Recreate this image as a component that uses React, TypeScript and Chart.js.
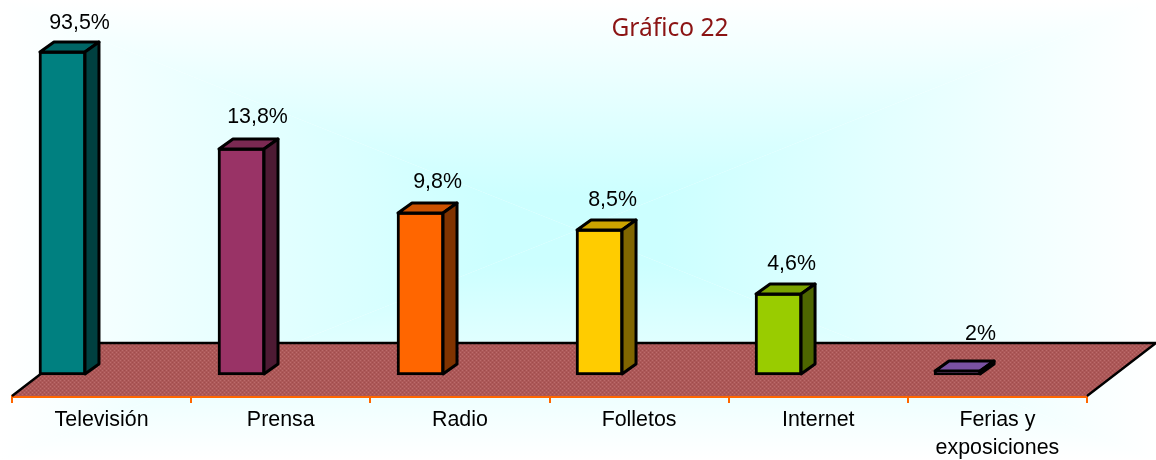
import React, { useEffect, useRef } from "react";
import { Chart, registerables } from "chart.js";

Chart.register(...registerables);

const categories: (string | string[])[] = ["Televisión", "Prensa", "Radio", "Folletos", "Internet", ["Ferias y", "exposiciones"]];
const valueLabels = ["93,5%", "13,8%", "9,8%", "8,5%", "4,6%", "2%"];
// Column heights as drawn in the picture (the source chart's axis is not proportional to its labels).
const drawnHeights = [324, 227, 163, 146, 82, 5];
const barColors = ["#008080", "#993366", "#FF6600", "#FFCC00", "#99CC00", "#9966CC"];
const chartTitle = "Gráfico 22";

const LABEL_FONT = "21.4px 'Liberation Sans', Arial, sans-serif";
const LABEL_LIFT = [28, 31, 30, 29, 29, 36];
const LABEL_SHIFT = [17, 16, 17, 13, 13, 23];
const DEPTH_X = 14;
const DEPTH_Y = 10;

const shade = (hex: string, k: number) => {
  const n = parseInt(hex.slice(1), 16);
  const c = [(n >> 16) & 255, (n >> 8) & 255, n & 255].map((v) => Math.round(v * k));
  return `rgb(${c[0]},${c[1]},${c[2]})`;
};

const backgroundPlugin = {
  id: "pathGradient",
  beforeDraw(chart: any) {
    const { ctx, width: w, height: h } = chart;
    const cx = w / 2;
    const cy = h / 2;
    const tris: [number, number, number, number, number, number, number, number][] = [
      [0, 0, w, 0, cx, 0, cx, cy],
      [0, h, w, h, cx, h, cx, cy],
      [0, 0, 0, h, 0, cy, cx, cy],
      [w, 0, w, h, w, cy, cx, cy],
    ];
    ctx.save();
    tris.forEach(([ax, ay, bx, by, ex, ey, mx, my]) => {
      const g = ctx.createLinearGradient(ex, ey, mx, my);
      g.addColorStop(0, "#FFFFFF");
      g.addColorStop(0.85, "#CCFFFF");
      g.addColorStop(1, "#CCFFFF");
      ctx.fillStyle = g;
      ctx.beginPath();
      ctx.moveTo(ax, ay);
      ctx.lineTo(bx, by);
      ctx.lineTo(cx, cy);
      ctx.closePath();
      ctx.fill();
    });
    ctx.restore();
  },
};

const floorPlugin = {
  id: "floor",
  beforeDatasetsDraw(chart: any) {
    const { ctx, chartArea: a } = chart;
    const tile = document.createElement("canvas");
    tile.width = 4;
    tile.height = 4;
    const t = tile.getContext("2d")!;
    t.fillStyle = "#AC5858";
    t.fillRect(0, 0, 4, 4);
    t.fillStyle = "#BC6C6C";
    t.fillRect(0, 0, 1, 1);
    t.fillRect(2, 2, 1, 1);
    t.fillStyle = "#A04C4C";
    t.fillRect(2, 0, 1, 1);
    t.fillRect(0, 2, 1, 1);
    const frontY = a.bottom;
    const backY = a.bottom - 53;
    const pts = [
      [a.left, frontY],
      [a.left + 69, backY],
      [a.right + 69, backY],
      [a.right, frontY],
    ];
    ctx.save();
    ctx.fillStyle = ctx.createPattern(tile, "repeat");
    ctx.beginPath();
    pts.forEach(([x, y], i) => (i ? ctx.lineTo(x, y) : ctx.moveTo(x, y)));
    ctx.closePath();
    ctx.fill();
    ctx.strokeStyle = "#000";
    ctx.lineWidth = 2.4;
    ctx.beginPath();
    ctx.moveTo(pts[0][0], pts[0][1]);
    ctx.lineTo(pts[1][0], pts[1][1]);
    ctx.lineTo(pts[2][0], pts[2][1]);
    ctx.lineTo(pts[3][0], pts[3][1]);
    ctx.stroke();
    ctx.restore();
  },
};

const columnPlugin = {
  id: "column3d",
  afterDatasetsDraw(chart: any) {
    const { ctx } = chart;
    const bars = chart.getDatasetMeta(0).data;
    ctx.save();
    ctx.strokeStyle = "#000";
    ctx.lineWidth = 3;
    ctx.lineJoin = "round";
    bars.forEach((bar: any, i: number) => {
      const l = bar.x - bar.width / 2 + 1;
      const r = bar.x + bar.width / 2 - 1;
      const top = bar.y + 1;
      const bot = bar.base - 1;
      ctx.fillStyle = shade(barColors[i], 0.8);
      ctx.beginPath();
      ctx.moveTo(l, top);
      ctx.lineTo(l + DEPTH_X, top - DEPTH_Y);
      ctx.lineTo(r + DEPTH_X, top - DEPTH_Y);
      ctx.lineTo(r, top);
      ctx.closePath();
      ctx.fill();
      ctx.stroke();
      ctx.fillStyle = shade(barColors[i], 0.5);
      ctx.beginPath();
      ctx.moveTo(r, top);
      ctx.lineTo(r + DEPTH_X, top - DEPTH_Y);
      ctx.lineTo(r + DEPTH_X, bot - DEPTH_Y);
      ctx.lineTo(r, bot);
      ctx.closePath();
      ctx.fill();
      ctx.stroke();
    });
    ctx.fillStyle = "#000";
    ctx.font = LABEL_FONT;
    ctx.textAlign = "center";
    ctx.textBaseline = "middle";
    bars.forEach((bar: any, i: number) => {
      ctx.fillText(valueLabels[i], bar.x + LABEL_SHIFT[i], bar.y - LABEL_LIFT[i]);
    });
    ctx.fillStyle = "#8B1414";
    ctx.font = "24.5px 'Noto Sans', sans-serif";
    ctx.fillText(chartTitle, 670, 29.5);
    ctx.restore();
  },
};

export default function App() {
  const ref = useRef<HTMLCanvasElement>(null);
  useEffect(() => {
    document.body.style.margin = "0";
    const chart = new Chart(ref.current!, {
      type: "bar",
      data: {
        labels: categories,
        datasets: [
          {
            xAxisID: "columns",
            data: drawnHeights.map((h, i) => ({ x: i, y: h })),
            backgroundColor: barColors,
            borderColor: "#000",
            borderWidth: 3,
            borderSkipped: false,
            barThickness: 47,
          },
        ],
      },
      options: {
        responsive: false,
        animation: false,
        events: [],
        layout: { padding: { left: 12, right: 69, top: 0, bottom: 0 } },
        plugins: { legend: { display: false }, tooltip: { enabled: false }, title: { display: false } },
        scales: {
          x: {
            type: "category",
            position: "bottom",
            offset: true,
            afterFit(scale: any) {
              scale.height = 64;
            },
            grid: { offset: true, drawOnChartArea: false, drawTicks: true, tickLength: 7, color: "#FF6600", lineWidth: 2 },
            border: { color: "#FF6600", width: 3 },
            ticks: { color: "#000", font: { family: "'Liberation Sans', Arial, sans-serif", size: 21.4, lineHeight: 1.3 }, padding: 3, maxRotation: 0, autoSkip: false },
          },
          columns: { type: "linear", display: false, offset: false, min: -0.282, max: 5.723, bounds: "data", grid: { offset: false } },
          y: { type: "linear", display: false, min: -21, max: 375 },
        },
      },
      plugins: [backgroundPlugin, floorPlugin, columnPlugin],
    } as any);
    return () => chart.destroy();
  }, []);
  return <canvas ref={ref} width={1156} height={460} style={{ display: "block" }} />;
}
